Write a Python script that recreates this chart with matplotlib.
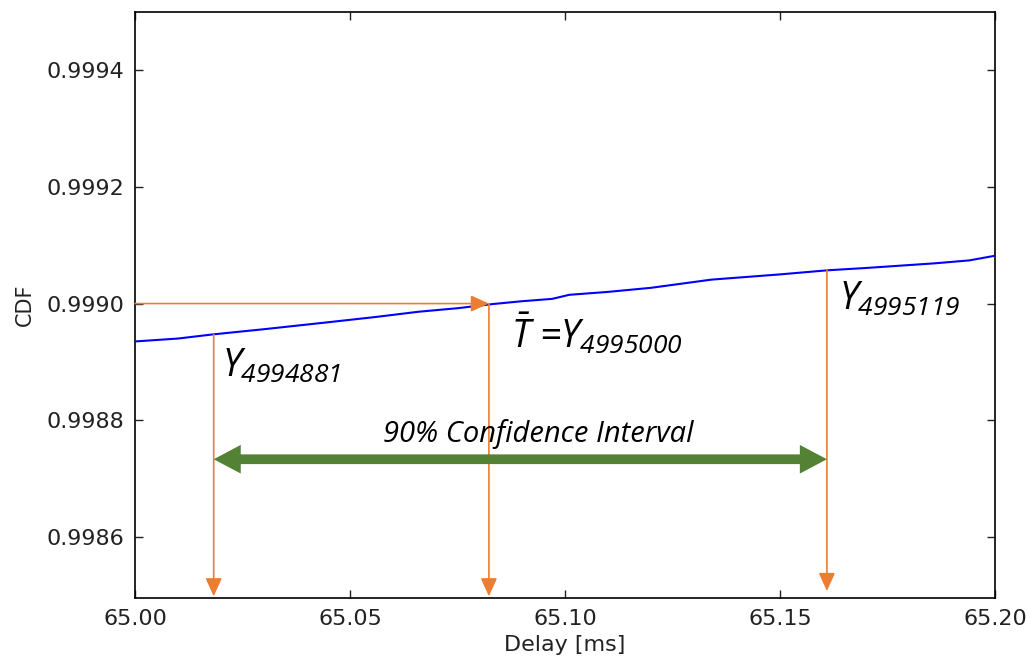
import matplotlib
matplotlib.use('Agg')
import matplotlib.pyplot as plt
from matplotlib.ticker import FormatStrFormatter, MultipleLocator

plt.rcParams['mathtext.fontset'] = 'custom'
plt.rcParams['mathtext.it'] = 'Open Sans:italic'
plt.rcParams['mathtext.rm'] = 'Open Sans:italic'
plt.rcParams['font.family'] = ['DejaVu Sans']

delay = [65.000, 65.010, 65.018, 65.030, 65.045, 65.056, 65.066, 65.075, 65.083,
         65.090, 65.097, 65.101, 65.110, 65.120, 65.134, 65.150, 65.161, 65.170,
         65.178, 65.186, 65.194, 65.200]
cdf = [0.998935, 0.998940, 0.998947, 0.998956, 0.998968, 0.998977, 0.998986,
       0.998992, 0.998999, 0.999004, 0.999008, 0.999015, 0.999020, 0.999027,
       0.999041, 0.999050, 0.999057, 0.999061, 0.999065, 0.999069, 0.999074,
       0.999082]

# order statistics
y_lo, y_mid, y_hi = 65.0183, 65.0823, 65.1609
c_lo, c_mid, c_hi = 0.998947, 0.999000, 0.999058
ci_level = 0.998733
labels = [r'$Y_{\mathit{4994881}}$', r'$\bar{T}$ =$Y_{\mathit{4995000}}$', r'$Y_{\mathit{4995119}}$']

orange = '#ED7D31'
green = '#548235'

fig = plt.figure(figsize=(10.29, 6.56), dpi=100)
ax = fig.add_axes([0.1312, 0.0884, 0.8358, 0.8933])

ax.plot(delay, cdf, color='b', lw=1.5, zorder=3)

ymin, ymax = 0.998495, 0.9995
ax.set_xlim(65.00, 65.20)
ax.set_ylim(ymin, ymax)

arr = dict(arrowstyle='-|>,head_length=11,head_width=5', color=orange, lw=1.2,
           mutation_scale=1, shrinkA=0, shrinkB=0)
ax.annotate('', xy=(y_mid, c_mid), xytext=(65.00, c_mid), arrowprops=arr)
ax.annotate('', xy=(y_lo, ymin + 0.000003), xytext=(y_lo, c_lo), arrowprops=arr)
ax.annotate('', xy=(y_mid, ymin + 0.000003), xytext=(y_mid, c_mid), arrowprops=arr)
ax.annotate('', xy=(y_hi, ymin + 0.000012), xytext=(y_hi, c_hi), arrowprops=arr)

ax.annotate('', xy=(y_hi, ci_level), xytext=(y_lo, ci_level),
            arrowprops=dict(arrowstyle='<|-|>,head_length=8.5,head_width=4.5', color=green,
                            lw=7, mutation_scale=1, shrinkA=0, shrinkB=0,
                            capstyle='butt', joinstyle='miter'))
ax.text(65.0937, 0.998762, '90% Confidence Interval',
        fontsize=21, family='Open Sans', style='italic', ha='center', va='baseline')

ax.text(65.0202, 0.998874, labels[0], fontsize=27, family='Open Sans', style='italic',
        va='baseline', ha='left')
ax.text(65.0875, 0.998925, labels[1], fontsize=27, family='Open Sans', style='italic',
        va='baseline', ha='left')
ax.text(65.1638, 0.998990, labels[2], fontsize=27, family='Open Sans', style='italic',
        va='baseline', ha='left')

ax.xaxis.set_major_locator(MultipleLocator(0.05))
ax.yaxis.set_major_locator(MultipleLocator(0.0002))
ax.xaxis.set_major_formatter(FormatStrFormatter('%.2f'))
ax.yaxis.set_major_formatter(FormatStrFormatter('%.4f'))
ax.tick_params(direction='in', length=6, width=1, top=True, right=True,
               labelsize=16, pad=8, colors='#222222')
for s in ax.spines.values():
    s.set_linewidth(1.2)
ax.set_xlabel('Delay [ms]', fontsize=16, labelpad=4, color='#222222')
ax.set_ylabel('CDF', fontsize=15, labelpad=8, color='#222222')

fig.savefig('out.png', dpi=100)
